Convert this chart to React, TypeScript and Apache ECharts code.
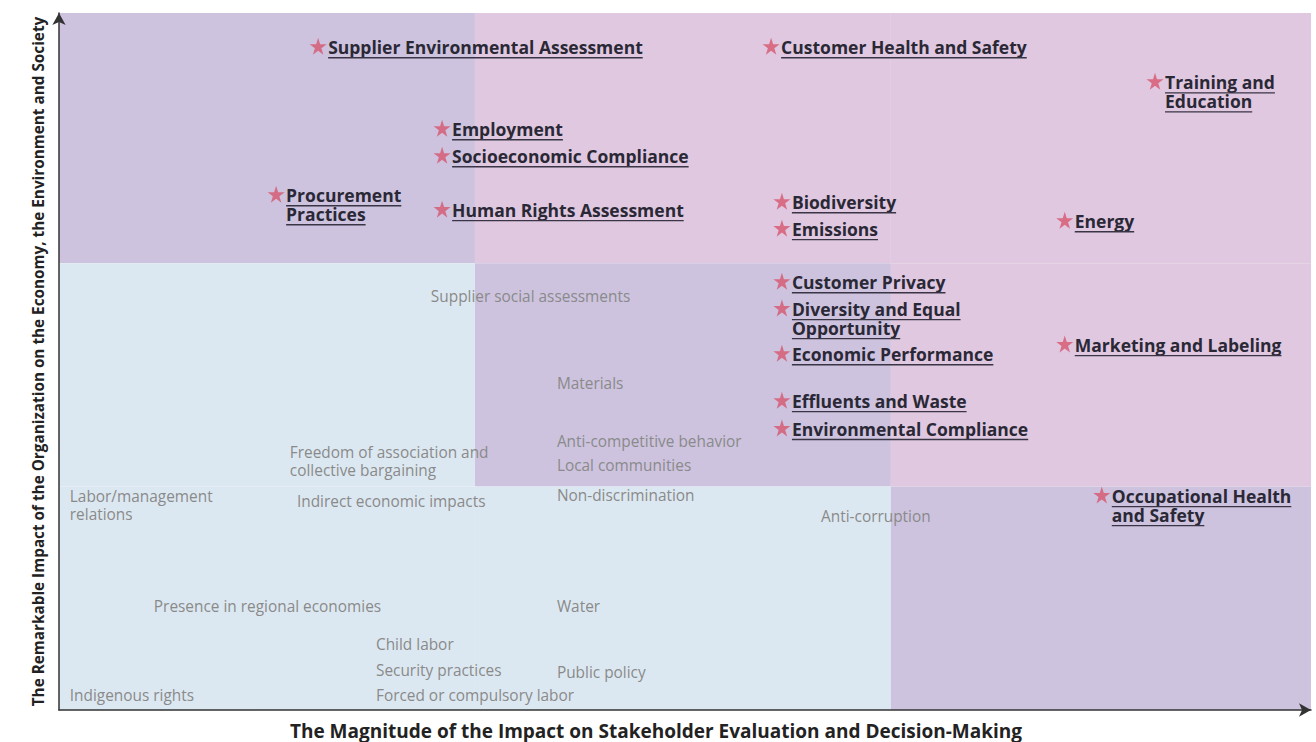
import React, { useEffect, useRef } from "react";
import * as echarts from "echarts";

// ---- axis extents (data units) ----
const X_MAX = 3.01;
const Y_MAX = 3.12;

// ---- background zones (data units) ----
const zoneKind = ["purple", "pink", "pink", "blue", "purple", "pink", "blue", "blue", "purple"];
const zoneX0 = [0, 1, 2, 0, 1, 2, 0, 1, 2];
const zoneX1 = [1, 2, X_MAX, 1, 2, X_MAX, 1, 2, X_MAX];
const zoneY0 = [2, 2, 2, 1, 1, 1, 0, 0, 0];
const zoneY1 = [Y_MAX, Y_MAX, Y_MAX, 2, 2, 2, 1, 1, 1];
const zoneColors: Record<string, string> = {
  purple: "#cdc3df",
  pink: "#dfc8e0",
  blue: "#dce8f1",
};

// ---- material topics (starred) ----
const materialTopics = [
  "Supplier Environmental Assessment",
  "Customer Health and Safety",
  "Training and\nEducation",
  "Employment",
  "Socioeconomic Compliance",
  "Procurement\nPractices",
  "Human Rights Assessment",
  "Biodiversity",
  "Emissions",
  "Energy",
  "Customer Privacy",
  "Diversity and Equal\nOpportunity",
  "Economic Performance",
  "Marketing and Labeling",
  "Effluents and Waste",
  "Environmental Compliance",
  "Occupational Health\nand Safety",
];
const materialX = [0.623, 1.712, 2.635, 0.921, 0.921, 0.522, 0.921, 1.738, 1.738, 2.418, 1.738, 1.738, 1.738, 2.418, 1.738, 1.738, 2.507];
const materialY = [2.971, 2.971, 2.814, 2.604, 2.483, 2.309, 2.242, 2.277, 2.157, 2.192, 1.919, 1.799, 1.597, 1.638, 1.387, 1.262, 0.962];

// ---- other topics (grey, no marker) ----
const otherTopics = [
  "Supplier social assessments",
  "Materials",
  "Anti-competitive behavior",
  "Local communities",
  "Non-discrimination",
  "Freedom of association and\ncollective bargaining",
  "Labor/management\nrelations",
  "Indirect economic impacts",
  "Anti-corruption",
  "Presence in regional economies",
  "Water",
  "Child labor",
  "Security practices",
  "Public policy",
  "Indigenous rights",
  "Forced or compulsory labor",
];
const otherX = [0.894, 1.197, 1.197, 1.197, 1.197, 0.555, 0.026, 0.572, 1.832, 0.228, 1.197, 0.762, 0.762, 1.197, 0.026, 0.762];
const otherY = [1.852, 1.463, 1.204, 1.096, 0.962, 1.114, 0.917, 0.935, 0.864, 0.465, 0.465, 0.291, 0.179, 0.170, 0.063, 0.063];

const X_TITLE = "The Magnitude of the Impact on Stakeholder Evaluation and Decision-Making";
const Y_TITLE = "The Remarkable Impact of the Organization on the Economy, the Environment and Society";

const LABEL_FONT = 'bold 17.5px "Open Sans", sans-serif';
const LABEL_LINE = 19;
const OTHER_FONT = '15.4px "Open Sans", sans-serif';
const TITLE_FAMILY = '"Open Sans", sans-serif';
const STAR = "path://M50,0L61.2,34.5L97.6,34.5L68.2,55.9L79.4,90.5L50,69.1L20.6,90.5L31.8,55.9L2.4,34.5L38.8,34.5Z";

let measureCtx: CanvasRenderingContext2D | null = null;
function measure(text: string, font: string): number {
  if (!measureCtx) measureCtx = document.createElement("canvas").getContext("2d");
  if (!measureCtx) return text.length * 10;
  measureCtx.font = font;
  return measureCtx.measureText(text).width;
}

export default function App() {
  const ref = useRef<HTMLDivElement>(null);

  useEffect(() => {
    if (!ref.current) return;
    const chart = echarts.init(ref.current, undefined, { renderer: "svg" });

    const zoneData = zoneKind.map((k, i) => [zoneX0[i], zoneX1[i], zoneY0[i], zoneY1[i]]);
    const materialData = materialTopics.map((_, i) => [materialX[i], materialY[i]]);
    const otherData = otherTopics.map((_, i) => [otherX[i], otherY[i]]);

    const option: any = {
      animation: false,
      backgroundColor: "#ffffff",
      grid: { left: 59, right: 5, top: 13, bottom: 32, outerBoundsMode: "none", containLabel: false },
      xAxis: {
        type: "value",
        min: 0,
        max: X_MAX,
        axisLabel: { show: false },
        axisTick: { show: false },
        splitLine: { show: false },
        axisLine: {
          lineStyle: { color: "#333333", width: 1.5 },
          symbol: ["none", "arrow"],
          symbolSize: [10, 12],
        },
        name: X_TITLE,
        nameLocation: "middle",
        nameGap: 11,
        nameTextStyle: {
          fontFamily: TITLE_FAMILY,
          fontWeight: "bold",
          fontSize: 19,
          color: "#222222",
          padding: [0, 58, 0, 0],
        },
      },
      yAxis: {
        type: "value",
        min: 0,
        max: Y_MAX,
        axisLabel: { show: false },
        axisTick: { show: false },
        splitLine: { show: false },
        axisLine: {
          lineStyle: { color: "#333333", width: 1.5 },
          symbol: ["none", "arrow"],
          symbolSize: [10, 12],
        },
        name: Y_TITLE,
        nameLocation: "middle",
        nameGap: 14,
        nameTextStyle: {
          fontFamily: TITLE_FAMILY,
          fontWeight: "bold",
          fontSize: 15.3,
          color: "#222222",
        },
      },
      series: [
        {
          type: "custom",
          silent: true,
          z: 0,
          data: zoneData,
          encode: { x: [0, 1], y: [2, 3] },
          renderItem: (params: any, api: any) => {
            const i = params.dataIndex;
            const p0 = api.coord([api.value(0), api.value(3)]);
            const p1 = api.coord([api.value(1), api.value(2)]);
            return {
              type: "rect",
              shape: { x: p0[0], y: p0[1], width: p1[0] - p0[0], height: p1[1] - p0[1] },
              style: { fill: zoneColors[zoneKind[i]] },
            };
          },
        },
        {
          type: "custom",
          silent: true,
          z: 3,
          data: otherData,
          encode: { x: 0, y: 1 },
          renderItem: (params: any, api: any) => {
            const i = params.dataIndex;
            const p = api.coord([api.value(0), api.value(1)]);
            return {
              type: "text",
              x: p[0],
              y: p[1],
              style: {
                text: otherTopics[i],
                font: OTHER_FONT,
                fill: "#8a8a8a",
                align: "left",
                verticalAlign: "middle",
                lineHeight: 18,
              },
            };
          },
        },
        {
          type: "scatter",
          silent: true,
          z: 4,
          data: materialData,
          symbol: STAR,
          symbolSize: 17,
          itemStyle: { color: "#d6566e" },
        },
        {
          type: "custom",
          silent: true,
          z: 5,
          data: materialData,
          encode: { x: 0, y: 1 },
          renderItem: (params: any, api: any) => {
            const i = params.dataIndex;
            const p = api.coord([api.value(0), api.value(1)]);
            const lines = materialTopics[i].split("\n");
            const tx = p[0] + 10;
            const firstMid = p[1] + 1;
            const children: any[] = [
              {
                type: "text",
                x: tx,
                y: firstMid - LABEL_LINE / 2,
                style: {
                  text: materialTopics[i],
                  font: LABEL_FONT,
                  fill: "#2b2836",
                  align: "left",
                  verticalAlign: "top",
                  lineHeight: LABEL_LINE,
                },
              },
            ];
            lines.forEach((ln, k) => {
              const uy = firstMid + k * LABEL_LINE + 10.5;
              const w = measure(ln, LABEL_FONT);
              children.push({
                type: "line",
                shape: { x1: tx, y1: uy, x2: tx + w, y2: uy },
                style: { stroke: "#3a3545", lineWidth: 1.4 },
              });
            });
            return { type: "group", children };
          },
        },
      ],
    };

    chart.setOption(option);
    return () => chart.dispose();
  }, []);

  return (
    <div
      ref={ref}
      style={{ position: "absolute", left: 0, top: 0, width: 1316, height: 742 }}
    />
  );
}
